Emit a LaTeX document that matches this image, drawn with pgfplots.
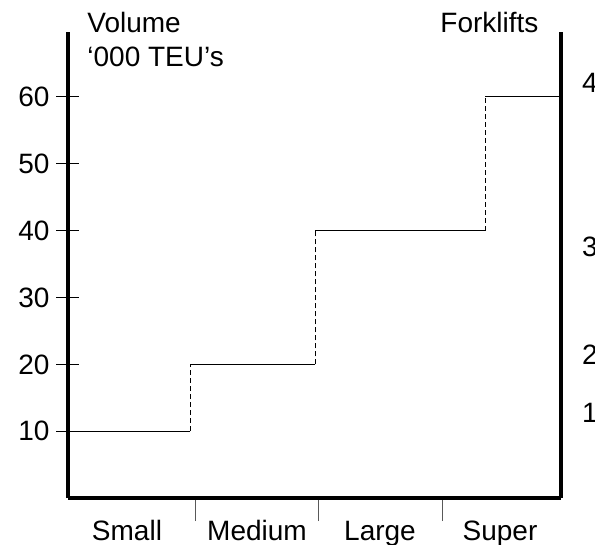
\documentclass[border=0pt]{standalone}
\usepackage{pgfplots}
\pgfplotsset{compat=1.18}
\usepackage{fontspec}
\setmainfont{Liberation Sans}

% 1 px of the reference = 0.5pt; x in px, y in data units
\pgfplotsset{
  common/.style={
    scale only axis, width=246.5pt, height=233pt,
    xmin=68, xmax=561, ymin=0, ymax=69.7,
    clip=false,
    axis line style={line width=2pt, black},
    tick label style={font=\fontsize{14}{16}\selectfont},
    /pgf/number format/assume math mode=true,
  }
}

\begin{document}
\begin{tikzpicture}
\begin{axis}[
  common,
  axis x line*=bottom, axis y line*=left,
  ytick={10,20,30,40,50,60},
  ytick style={line width=0.5pt, black},
  ytick align=center,
  y tick label style={anchor=east, xshift=0pt},
  xtick={195,318,442},
  xticklabels={},
  xtick style={line width=0.5pt, black!65},
  xtick align=outside,
  x tick label style={yshift=-7.5pt, text height=10pt, text depth=3pt},
  major tick length=11.5pt,
  extra x ticks={127,257,380,500},
  extra x tick labels={Small,Medium,Large,Super},
  extra x tick style={major tick length=0pt},
]
  % horizontal steps (solid)
  \addplot[black, line width=0.5pt] coordinates {(68,10) (190,10)};
  \addplot[black, line width=0.5pt] coordinates {(190,20) (315,20)};
  \addplot[black, line width=0.5pt] coordinates {(315,40) (485,40)};
  \addplot[black, line width=0.5pt] coordinates {(485,60) (561,60)};
  % risers (dashed)
  \addplot[black, line width=0.5pt, dash pattern=on 2.5pt off 1.5pt] coordinates {(190,10) (190,20)};
  \addplot[black, line width=0.5pt, dash pattern=on 2.5pt off 1.5pt] coordinates {(315,20) (315,40)};
  \addplot[black, line width=0.5pt, dash pattern=on 2.5pt off 1.5pt] coordinates {(485,40) (485,60)};

  \node[anchor=north west, align=left, inner sep=0pt, font=\fontsize{14}{17}\selectfont]
    at (axis cs:87,72.8) {Volume\\‘000 TEU’s};
  \node[anchor=north west, inner sep=0pt, font=\fontsize{14}{16}\selectfont]
    at (axis cs:440,72.8) {Forklifts};

  \coordinate (bl) at (axis cs:0,-6.87);
  \coordinate (tr) at (axis cs:595,74.5);
\end{axis}
\begin{axis}[
  common,
  axis x line=none, axis y line*=right,
  ytick={12.8,21.5,37.6,62.1},
  yticklabels={1,2,3,4},
  major tick length=0pt,
  y tick label style={anchor=west, xshift=7pt},
]
\end{axis}
\pgfresetboundingbox
\path[use as bounding box] (bl) rectangle (tr);
\end{tikzpicture}
\end{document}
